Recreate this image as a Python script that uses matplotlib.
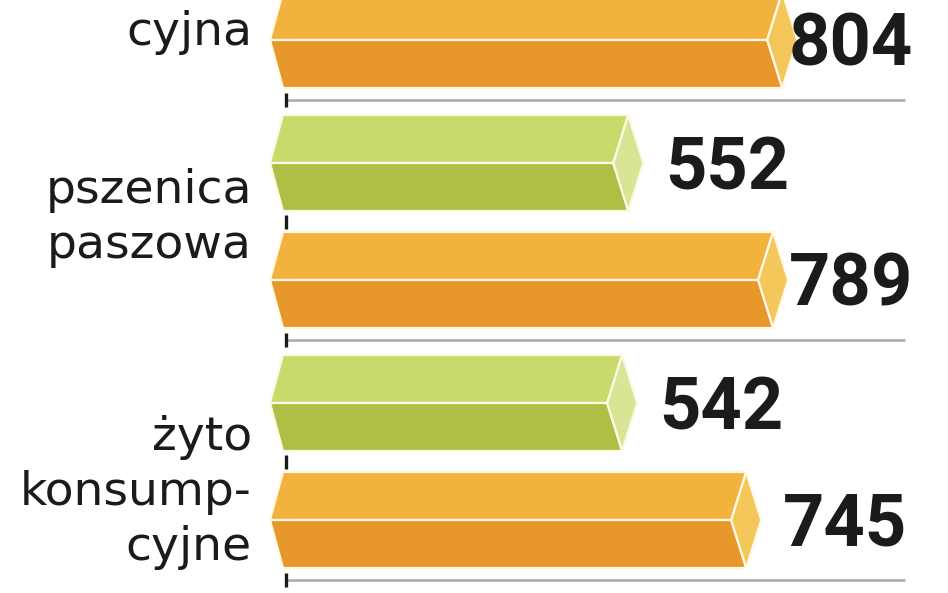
import numpy as np
import matplotlib
matplotlib.use("Agg")
import matplotlib.pyplot as plt
from matplotlib.patches import Polygon

# --- data ---
# the top group is cropped: only the last label line and the orange bar show
labels = ["cyjna", "pszenica\npaszowa", "żyto\nkonsump-\ncyjne"]
green_vals = [np.nan, 552, 542]
orange_vals = [804, 789, 745]

# --- style ---
ORANGE = ("#F2B33E", "#E8972A", "#F4C75A")   # top face, bottom face, end cap
GREEN = ("#C8DA6C", "#AFBE45", "#D8E594")
GRID = "#A9A9A9"
INK = "#1B1B1B"

# --- layout: x in data units, y in pixels (top = 0) ---
W, H = 948, 593
X0_PX, PX_PER_UNIT = 291, 0.611
GROUP_PITCH, FIRST_ORANGE = 240, 40
GREEN_OFFSET, HALF = -117, 48
LABEL_SHIFT = [5, -22, 40]     # last-line baseline relative to orange bar centre
LINE_STEP = 55


def u(px):
    return px / PX_PER_UNIT


def prism(ax, v, yc, colors):
    top, bot = yc - HALF, yc + HALF
    xl, dl, d = -u(21), u(13), u(15)
    face_top = [(xl + dl, top), (v, top), (v - d, yc), (xl, yc)]
    face_bot = [(xl, yc), (v - d, yc), (v, bot), (xl + dl, bot)]
    cap = [(v, top), (v + d, yc), (v, bot), (v - d, yc)]
    for pts, c in zip((face_top, face_bot, cap), colors):
        ax.add_patch(Polygon(pts, closed=True, facecolor=c, edgecolor="#FFF8E6",
                             lw=1.6, joinstyle="miter"))


fig = plt.figure(figsize=(W / 100, H / 100), dpi=100)
ax = fig.add_axes([0, 0, 1, 1])
ax.set_xlim(-u(X0_PX), u(W - X0_PX))
ax.set_ylim(H, 0)
ax.axis("off")

tick_x = -u(5)
for i, (lab, g, o) in enumerate(zip(labels, green_vals, orange_vals)):
    yo = FIRST_ORANGE + GROUP_PITCH * i
    yg = yo + GREEN_OFFSET
    if np.isfinite(g):
        prism(ax, g, yg, GREEN)
        ax.text(min(g + 60, 815), yg + 26, f"{g:.0f}", ha="left", va="baseline",
                fontsize=52, fontweight="bold", family="Roboto", color=INK)
    prism(ax, o, yo, ORANGE)
    ax.text(min(o + 60, 815), yo + 26, f"{o:.0f}", ha="left", va="baseline",
            fontsize=52, fontweight="bold", family="Roboto", color=INK)

    # separator under the group plus axis ticks
    sep = yo + 60
    ax.plot([tick_x, u(905 - X0_PX)], [sep, sep], color=GRID, lw=1.8,
            solid_capstyle="butt", zorder=1)
    for ty in (sep, yo - 58):
        ax.plot([tick_x, tick_x], [ty - 7, ty + 7], color=INK, lw=2.4,
                solid_capstyle="butt", zorder=3)

    # category label, right-aligned, one text per line
    lines = lab.split("\n")
    last = yo + LABEL_SHIFT[i]
    for j, line in enumerate(lines):
        ax.text(-u(X0_PX - 252), last - LINE_STEP * (len(lines) - 1 - j), line,
                ha="right", va="baseline", fontsize=34, color=INK,
                family="DejaVu Sans")

fig.savefig("out.png", dpi=100, facecolor="white")
